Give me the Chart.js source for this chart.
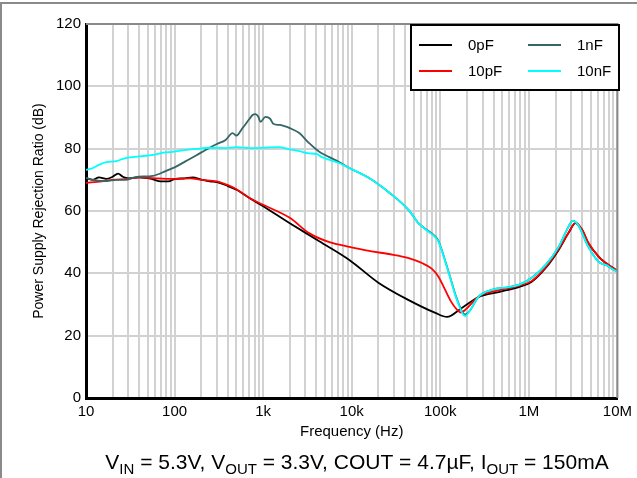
<!DOCTYPE html>
<html>

<head>
    <meta charset="utf-8">
    <title>PSRR vs Frequency</title>
    <script src="https://cdn.jsdelivr.net/npm/chart.js@4.4.1/dist/chart.umd.min.js"></script>
    <style>
        body { margin: 0; background: #fff; }
        canvas { display: block; }
    </style>
</head>

<body>
    <canvas id="psrrChart" width="637" height="478"></canvas>
</body>
<script>
    // measured PSRR curves, one array pair per feed-forward capacitor
    var freq0pF = [10, 12, 14, 17, 20, 23, 26, 30, 40, 55, 70, 85, 100, 130, 160, 200, 250, 300, 400, 500, 700, 1000, 2000, 4300, 9400, 20000, 44000, 88000, 119000, 175000, 272000, 457000, 769000, 1070000, 1550000, 2170000, 2800000, 3370000, 4000000, 4700000, 6200000, 7400000, 10000000];
    var psrr0pF = [70.5, 70.0, 70.8, 70.3, 71.0, 72.0, 71.0, 70.5, 70.8, 70.3, 69.5, 69.5, 70.2, 70.5, 70.8, 70.1, 69.5, 69.3, 68.0, 66.8, 64.2, 61.5, 56.1, 50.3, 44.3, 37.0, 31.4, 27.3, 26.0, 28.9, 32.4, 34.0, 35.6, 37.2, 41.7, 47.5, 52.9, 56.1, 53.9, 49.7, 45.2, 43.3, 40.8];

    var freq10pF = [10, 15, 20, 30, 40, 60, 100, 150, 200, 300, 400, 500, 700, 1000, 2000, 3300, 5600, 9400, 15700, 26000, 44000, 62000, 80000, 95000, 110000, 132000, 155000, 171000, 195000, 272000, 457000, 769000, 1070000, 1550000, 2170000, 2800000, 3370000, 4000000, 4700000, 6200000, 7400000, 10000000];
    var psrr10pF = [69.0, 69.5, 70.0, 70.3, 70.8, 70.5, 70.3, 70.5, 70.0, 69.5, 68.3, 67.0, 64.2, 62.0, 57.8, 52.9, 50.0, 48.5, 47.2, 46.2, 44.9, 43.3, 41.5, 39.0, 35.5, 31.0, 28.3, 27.4, 28.5, 32.6, 34.5, 36.0, 37.5, 42.0, 47.8, 53.0, 56.3, 54.0, 49.8, 45.2, 43.3, 40.8];

    var freq1nF = [10, 13, 17, 22, 28, 36, 57, 79, 100, 134, 175, 224, 300, 377, 452, 500, 585, 700, 760, 820, 880, 934, 1060, 1200, 1300, 1530, 1700, 2000, 2560, 3300, 4300, 5600, 7200, 9400, 15700, 26000, 44000, 57000, 74000, 85000, 95000, 102000, 125000, 154000, 190000, 215000, 272000, 380000, 593000, 769000, 1070000, 1550000, 2170000, 2800000, 3120000, 3600000, 4700000, 6200000, 7400000, 9300000, 10000000];
    var psrr1nF = [70.6, 69.8, 69.6, 70.0, 70.0, 70.9, 71.3, 72.8, 74.0, 76.0, 77.8, 79.6, 81.5, 82.8, 85.0, 84.2, 86.6, 89.5, 90.8, 91.1, 90.3, 88.6, 90.2, 89.6, 88.0, 87.6, 87.3, 86.6, 85.0, 81.8, 79.0, 77.3, 75.7, 73.8, 70.6, 66.1, 60.3, 56.0, 53.5, 52.2, 50.5, 48.2, 40.2, 31.8, 26.8, 28.0, 32.6, 34.7, 35.6, 36.3, 38.5, 42.7, 48.5, 54.9, 56.8, 55.5, 48.5, 43.6, 42.7, 41.0, 40.6];

    var freq10nF = [10, 12, 14, 17, 22, 28, 40, 57, 75, 95, 130, 173, 250, 377, 500, 700, 1000, 1500, 2000, 2560, 3300, 4000, 4600, 7200, 9400, 15700, 26000, 44000, 57000, 74000, 85000, 95000, 102000, 125000, 154000, 190000, 215000, 272000, 380000, 593000, 769000, 1070000, 1550000, 2170000, 2800000, 3120000, 3600000, 4700000, 6200000, 7400000, 9300000, 10000000];
    var psrr10nF = [73.2, 73.8, 74.8, 75.7, 76.0, 77.0, 77.5, 78.0, 78.7, 79.0, 79.5, 79.9, 80.3, 80.2, 80.5, 80.2, 80.3, 80.5, 79.8, 79.2, 78.5, 78.3, 77.3, 75.4, 73.8, 70.6, 66.1, 60.3, 56.0, 53.3, 52.0, 50.3, 48.0, 40.0, 31.5, 26.3, 28.0, 32.6, 34.7, 35.6, 36.3, 38.5, 42.7, 48.5, 54.9, 56.8, 55.5, 48.5, 43.6, 42.7, 41.0, 40.6];

    var seriesLabels = ['0pF', '10pF', '1nF', '10nF'];
    var seriesColors = ['#000000', '#ff0000', '#336666', '#00ffff'];

    // decade labels on the frequency axis
    var xTickValues = [10, 100, 1000, 10000, 100000, 1000000, 10000000];
    var xTickLabels = ['10', '100', '1k', '10k', '100k', '1M', '10M'];

    var FONT = "'Liberation Sans', Arial, sans-serif";

    function points(fs, vs) {
        return fs.map(function (f, i) { return { x: f, y: vs[i] }; });
    }

    function makeSet(i, fs, vs, order) {
        return {
            label: seriesLabels[i],
            data: points(fs, vs),
            borderColor: seriesColors[i],
            backgroundColor: seriesColors[i],
            borderWidth: 1.8,
            pointRadius: 0,
            cubicInterpolationMode: 'monotone',
            order: order
        };
    }

    // white page, grey frame, plot border, boxed legend, and the conditions line
    var decorations = {
        id: 'decorations',
        beforeDraw: function (chart) {
            var ctx = chart.ctx;
            ctx.save();
            ctx.fillStyle = '#fff';
            ctx.fillRect(0, 0, chart.width, chart.height);
            ctx.strokeStyle = '#8a8a8a';
            ctx.lineWidth = 2;
            ctx.strokeRect(1, 3, chart.width + 10, chart.height + 10);
            ctx.restore();
        },
        afterDatasetsDraw: function (chart) {
            var ctx = chart.ctx, a = chart.chartArea;
            ctx.save();
            // top and right edges of the plot
            ctx.strokeStyle = '#8a8a8a';
            ctx.lineWidth = 2;
            ctx.beginPath();
            ctx.moveTo(a.left, a.top);
            ctx.lineTo(a.right, a.top);
            ctx.lineTo(a.right, a.bottom);
            ctx.stroke();

            // legend box, two columns
            var lx = 411, ly = 25, lw = 208, lh = 65;
            ctx.fillStyle = '#fff';
            ctx.fillRect(lx, ly, lw, lh);
            ctx.strokeStyle = '#000';
            ctx.lineWidth = 2;
            ctx.strokeRect(lx, ly, lw, lh);
            ctx.font = '15px ' + FONT;
            ctx.textBaseline = 'middle';
            ctx.textAlign = 'left';
            chart.data.datasets.forEach(function (ds, i) {
                var col = Math.floor(i / 2), row = i % 2;
                var x0 = lx + 8 + col * 109;
                var y0 = ly + 20 + row * 26;
                ctx.strokeStyle = ds.borderColor;
                ctx.lineWidth = 2;
                ctx.beginPath();
                ctx.moveTo(x0, y0);
                ctx.lineTo(x0 + 33, y0);
                ctx.stroke();
                ctx.fillStyle = '#000';
                ctx.fillText(ds.label, x0 + 49, y0 + 1);
            });
            ctx.restore();
        },
        afterDraw: function (chart) {
            var ctx = chart.ctx;
            var parts = [
                ['V', 0], ['IN', 1], [' = 5.3V, V', 0], ['OUT', 1],
                [' = 3.3V, COUT = 4.7\u00b5F, I', 0], ['OUT', 1], [' = 150mA', 0]
            ];
            var big = '21px ' + FONT, small = '15px ' + FONT;
            ctx.save();
            ctx.fillStyle = '#000';
            ctx.textBaseline = 'alphabetic';
            ctx.textAlign = 'left';
            var total = 0;
            parts.forEach(function (p) {
                ctx.font = p[1] ? small : big;
                total += ctx.measureText(p[0]).width;
            });
            var x = 357 - total / 2, base = 469;
            parts.forEach(function (p) {
                ctx.font = p[1] ? small : big;
                ctx.fillText(p[0], x, p[1] ? base + 5 : base);
                x += ctx.measureText(p[0]).width;
            });
            ctx.restore();
        }
    };

    var gridColor = '#d2d2d2';

    var ctx = document.getElementById('psrrChart').getContext('2d');
    var chart = new Chart(ctx, {
        type: 'line',
        data: {
            datasets: [
                makeSet(0, freq0pF, psrr0pF, 3),
                makeSet(1, freq10pF, psrr10pF, 2),
                makeSet(2, freq1nF, psrr1nF, 1),
                makeSet(3, freq10nF, psrr10nF, 0)
            ]
        },
        options: {
            responsive: false,
            animation: false,
            events: [],
            layout: { padding: { left: 0, right: 18, top: 24, bottom: 36 } },
            plugins: {
                legend: { display: false },
                tooltip: { enabled: false }
            },
            scales: {
                x: {
                    type: 'logarithmic',
                    min: 10,
                    max: 10000000,
                    afterBuildTicks: function (scale) {
                        var t = [];
                        for (var d = 10; d < 10000000; d *= 10) {
                            for (var m = 1; m < 10; m++) t.push({ value: d * m });
                        }
                        t.push({ value: 10000000 });
                        scale.ticks = t;
                    },
                    afterFit: function (scale) { scale.height = 44; },
                    grid: { color: gridColor, lineWidth: 2, drawTicks: false },
                    border: { color: '#000', width: 3 },
                    ticks: {
                        autoSkip: false,
                        maxRotation: 0,
                        padding: 5,
                        color: '#000',
                        font: { family: FONT, size: 15 },
                        callback: function (value) {
                            for (var i = 0; i < xTickValues.length; i++) {
                                if (Math.abs(value / xTickValues[i] - 1) < 1e-6) return xTickLabels[i];
                            }
                            return '';
                        }
                    },
                    title: {
                        display: true,
                        text: 'Frequency (Hz)',
                        color: '#000',
                        font: { family: FONT, size: 15 },
                        padding: { top: 0, bottom: 1 }
                    }
                },
                y: {
                    min: 0,
                    max: 120,
                    afterFit: function (scale) { scale.width = 86; },
                    grid: { color: gridColor, lineWidth: 2, drawTicks: false },
                    border: { color: '#000', width: 3 },
                    ticks: {
                        stepSize: 20,
                        padding: 5,
                        color: '#000',
                        font: { family: FONT, size: 15 }
                    },
                    title: {
                        display: true,
                        text: 'Power Supply Rejection Ratio (dB)',
                        color: '#000',
                        font: { family: FONT, size: 14 },
                        padding: { top: 31, bottom: 0 }
                    }
                }
            }
        },
        plugins: [decorations]
    });
</script>

</html>
